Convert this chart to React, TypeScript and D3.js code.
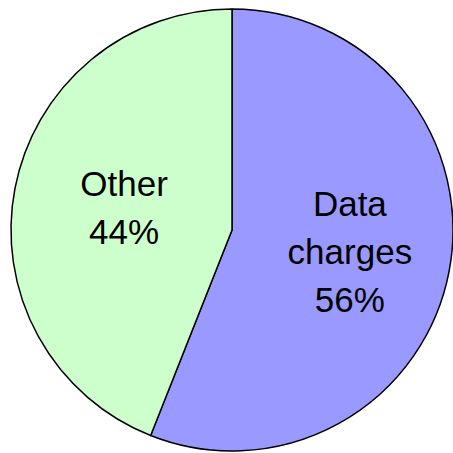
import React, { useEffect, useRef } from 'react';
import * as d3 from 'd3';

const categories = ['Data charges', 'Other'];
const labelLines = [['Data', 'charges'], ['Other']];
const shares = [56, 44];
const colors = ['#9999FF', '#CCFFCC'];

const App: React.FC = () => {
  const chartRef = useRef<SVGSVGElement | null>(null);

  useEffect(() => {
    const width = 453;
    const height = 453;
    const cx = 232;
    const cy = 230;
    const radius = 221;

    d3.select(chartRef.current).selectAll('*').remove();

    const svg = d3.select(chartRef.current)
      .attr('width', width)
      .attr('height', height)
      .append('g')
      .attr('transform', `translate(${cx},${cy})`);

    const data = categories.map((c, i) => ({ name: c, value: shares[i], lines: labelLines[i], color: colors[i] }));

    const pie = d3.pie<typeof data[number]>()
      .sort(null)
      .value((d) => d.value);

    const arc = d3.arc<d3.PieArcDatum<typeof data[number]>>()
      .innerRadius(0)
      .outerRadius(radius);

    const labelArc = d3.arc<d3.PieArcDatum<typeof data[number]>>()
      .innerRadius(0)
      .outerRadius(radius * 1.04);

    const arcs = pie(data);

    // Slices
    svg.selectAll('.slice')
      .data(arcs)
      .enter()
      .append('path')
      .attr('class', 'slice')
      .attr('d', arc)
      .attr('fill', (d) => d.data.color)
      .attr('stroke', '#000')
      .attr('stroke-width', 1.5)
      .attr('stroke-linejoin', 'round');

    // Labels (nudged right a little, like the original)
    const lineHeight = 48;
    const dx = 5;
    arcs.forEach((d) => {
      const [x, y] = labelArc.centroid(d);
      const lines = [...d.data.lines, `${d.data.value}%`];
      const text = svg.append('text')
        .attr('text-anchor', 'middle')
        .attr('font-family', 'Liberation Sans, Arial, sans-serif')
        .attr('font-size', 35)
        .attr('fill', '#000');
      const top = y - ((lines.length - 1) * lineHeight) / 2 + 12;
      lines.forEach((l, i) => {
        text.append('tspan')
          .attr('x', x + dx)
          .attr('y', top + i * lineHeight)
          .text(l);
      });
    });
  }, []);

  return <svg ref={chartRef} style={{ position: 'absolute', left: 0, top: 0, background: '#fff' }}></svg>;
};

export default App;
